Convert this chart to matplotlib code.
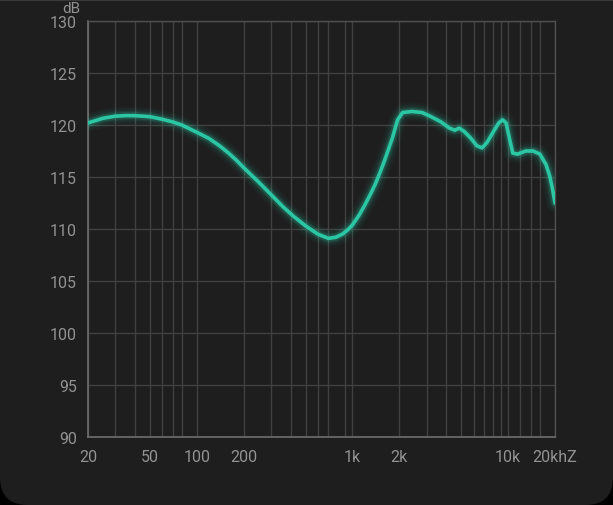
import matplotlib
matplotlib.use('Agg')
import matplotlib.pyplot as plt
from matplotlib.patches import FancyBboxPatch

# frequency response (Hz, dB)
freq_hz = [20, 25, 30, 35, 40, 50, 60, 70, 80, 100, 120, 140, 160, 180, 200,
           250, 300, 360, 420, 500, 600, 700, 780, 860, 930, 1000, 1100,
           1200, 1300, 1400, 1500, 1600, 1800, 1950, 2100, 2400, 2800, 3200,
           3700, 4200, 4550, 4850, 5200, 5700, 6300, 6800, 7300, 8000, 8700,
           9200, 9700, 10200, 10700, 11500, 13000, 14500, 16000, 17500,
           18500, 19300, 20000]
level_db = [120.2, 120.65, 120.85, 120.9, 120.9, 120.8, 120.55, 120.3, 120.0,
            119.3, 118.7, 118.0, 117.3, 116.6, 115.9, 114.5, 113.3, 112.1,
            111.2, 110.3, 109.5, 109.1, 109.2, 109.5, 109.9, 110.4, 111.3,
            112.3, 113.3, 114.3, 115.4, 116.5, 118.7, 120.5, 121.2, 121.3,
            121.2, 120.8, 120.3, 119.7, 119.5, 119.7, 119.4, 118.8, 118.0,
            117.8, 118.3, 119.3, 120.2, 120.5, 120.2, 118.7, 117.3, 117.2,
            117.5, 117.5, 117.2, 116.2, 115.1, 113.8, 112.5]

grid_hz = [20, 30, 40, 50, 60, 70, 80, 100, 200, 300, 400, 500, 600, 700, 900,
           1000, 2000, 3000, 4000, 5000, 6000, 7000, 8000, 9000, 10000, 12000,
           14000, 16000, 20000]
xtick_hz = [20, 50, 100, 200, 1000, 2000, 10000, 20000]
xtick_labels = ['20', '50', '100', '200', '1k', '2k', '10k', '20khZ']
ytick_db = [90, 95, 100, 105, 110, 115, 120, 125, 130]

plt.rcParams['font.family'] = ['Roboto', 'DejaVu Sans']

fig = plt.figure(figsize=(6.13, 5.06), dpi=100)
fig.patch.set_facecolor('black')

# rounded dark card behind the chart (only bottom corners visible)
card = FancyBboxPatch((0, 0), 1, 1.3, boxstyle='round,pad=0,rounding_size=0.045',
                      transform=fig.transFigure, facecolor='#1e1e1e',
                      edgecolor='none', mutation_aspect=613 / 506, zorder=-10)
fig.patches.append(card)
fig.add_artist(plt.Line2D([0, 1], [0.999, 0.999], transform=fig.transFigure,
                          color='#3a3a3a', lw=1.5, zorder=-5))

ax = fig.add_axes([88 / 613, 68 / 506, 467 / 613, 416 / 506])
ax.set_facecolor('#1e1e1e')
ax.set_xscale('log')
ax.set_xlim(20, 20000)
ax.set_ylim(90, 130)

for f in grid_hz:
    ax.axvline(f, color='#404040', lw=1, zorder=1)
for d in ytick_db:
    ax.axhline(d, color='#404040', lw=1, zorder=1)

# glow
for w, a in [(13, 0.04), (10, 0.06), (7, 0.10), (5, 0.18)]:
    ax.plot(freq_hz, level_db, color='#2bc6a3', lw=w, alpha=a,
            solid_capstyle='round', solid_joinstyle='round', zorder=3)
ax.plot(freq_hz, level_db, color='#2bc6a3', lw=2.6,
        solid_capstyle='round', solid_joinstyle='round', zorder=4)

ax.set_xticks(xtick_hz)
ax.set_xticklabels(xtick_labels)
ax.xaxis.set_minor_locator(matplotlib.ticker.NullLocator())
ax.set_yticks(ytick_db)
ax.tick_params(length=0, colors='#929292', labelsize=11.5)
ax.tick_params(axis='x', pad=9)
ax.tick_params(axis='y', pad=8)

for side in ['left', 'bottom']:
    ax.spines[side].set_color('#6e6e6e')
    ax.spines[side].set_linewidth(1.2)
for side in ['top', 'right']:
    ax.spines[side].set_color('#505050')
    ax.spines[side].set_linewidth(1)

fig.text(80 / 613, 1 - 9 / 506, 'dB', ha='right', va='center',
         color='#929292', fontsize=11)

fig.savefig('out.png', dpi=100, facecolor=fig.get_facecolor())
